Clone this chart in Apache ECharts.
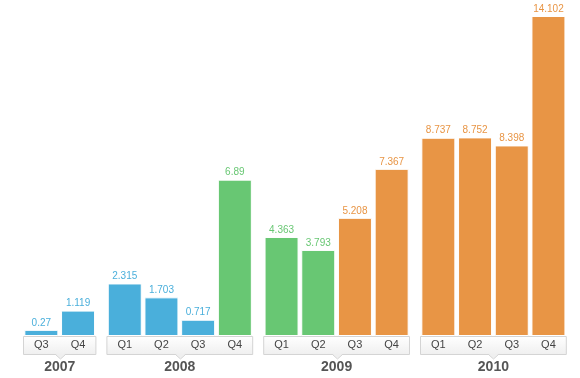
<!DOCTYPE html>
<html>
<head>
<meta charset="utf-8">
<script src="https://cdn.jsdelivr.net/npm/echarts@6/dist/echarts.min.js"></script>
<style>
  html, body { margin: 0; padding: 0; background: #fff; }
  #myChart { width: 580px; height: 378px; }
</style>
</head>
<body>
<div id="myChart"></div>
<script>
  // 每年一组
  var years = ['2007', '2008', '2009', '2010']
  var quarters = [
    ['Q3', 'Q4'],
    ['Q1', 'Q2', 'Q3', 'Q4'],
    ['Q1', 'Q2', 'Q3', 'Q4'],
    ['Q1', 'Q2', 'Q3', 'Q4']
  ]
  var values = [
    [0.27, 1.119],
    [2.315, 1.703, 0.717, 6.89],
    [4.363, 3.793, 5.208, 7.367],
    [8.737, 8.752, 8.398, 14.102]
  ]
  // 0 = blue, 1 = green, 2 = orange
  var phases = [
    [0, 0],
    [0, 0, 0, 1],
    [1, 1, 2, 2],
    [2, 2, 2, 2]
  ]
  var palette = ['#4aafdb', '#68c773', '#e89545']

  var font = '"Liberation Sans", Arial, sans-serif'
  var slot = 36.7
  var groupGap = 10
  var startX = 23
  var plotTop = 16
  var baseY = 336
  var boxH = 19

  var grids = []
  var xAxes = []
  var yAxes = []
  var series = []
  var graphics = []

  var x = startX
  for (var i = 0; i < years.length; i++) {
    var w = quarters[i].length * slot
    grids.push({ left: x, width: w, top: plotTop, bottom: 378 - baseY })
    xAxes.push({
      type: 'category',
      gridIndex: i,
      data: quarters[i],
      axisLine: { show: false },
      axisTick: { show: false },
      axisLabel: { color: '#444', fontSize: 11, fontFamily: font, margin: 3 }
    })
    xAxes.push({
      type: 'category',
      gridIndex: i,
      position: 'bottom',
      data: [years[i]],
      axisLine: { show: false },
      axisTick: { show: false },
      axisLabel: { color: '#555', fontSize: 14, fontWeight: 'bold', fontFamily: font, margin: 24 }
    })
    yAxes.push({
      type: 'value',
      gridIndex: i,
      min: 0,
      max: 14.102,
      show: false,
      splitLine: { show: false }
    })
    series.push({
      type: 'bar',
      xAxisIndex: i * 2,
      yAxisIndex: i,
      barWidth: 34,
      data: values[i].map(function (v, j) {
        var c = palette[phases[i][j]]
        return {
          value: v,
          itemStyle: { color: c, borderColor: '#fff', borderWidth: 1 },
          label: { color: c }
        }
      }),
      label: {
        show: true,
        position: 'top',
        distance: 2,
        fontSize: 10,
        fontFamily: font
      }
    })
    // 分组标签框
    graphics.push({
      type: 'rect',
      z: -1,
      shape: { x: x + 0.5, y: baseY + 0.5, width: w - 1, height: boxH - 1 },
      style: {
        fill: new echarts.graphic.LinearGradient(0, 0, 0, 1, [
          { offset: 0, color: '#ffffff' },
          { offset: 1, color: '#efefef' }
        ]),
        stroke: '#d4d4d4',
        lineWidth: 1
      }
    })
    var cx = Math.round(x + w / 2) + 0.5
    graphics.push({
      type: 'polygon',
      z: 0,
      shape: { points: [[cx - 5, baseY + boxH - 1], [cx, baseY + boxH + 4], [cx + 5, baseY + boxH - 1]] },
      style: { fill: '#efefef' }
    })
    graphics.push({
      type: 'polyline',
      z: 1,
      shape: { points: [[cx - 5, baseY + boxH - 0.5], [cx, baseY + boxH + 4], [cx + 5, baseY + boxH - 0.5]] },
      style: { stroke: '#d4d4d4', lineWidth: 1, fill: null }
    })
    x += w + groupGap
  }

  var myChart = echarts.init(document.getElementById('myChart'))
  myChart.setOption({
    animation: false,
    grid: grids,
    xAxis: xAxes,
    yAxis: yAxes,
    series: series,
    graphic: graphics
  })
</script>
</body>
</html>
